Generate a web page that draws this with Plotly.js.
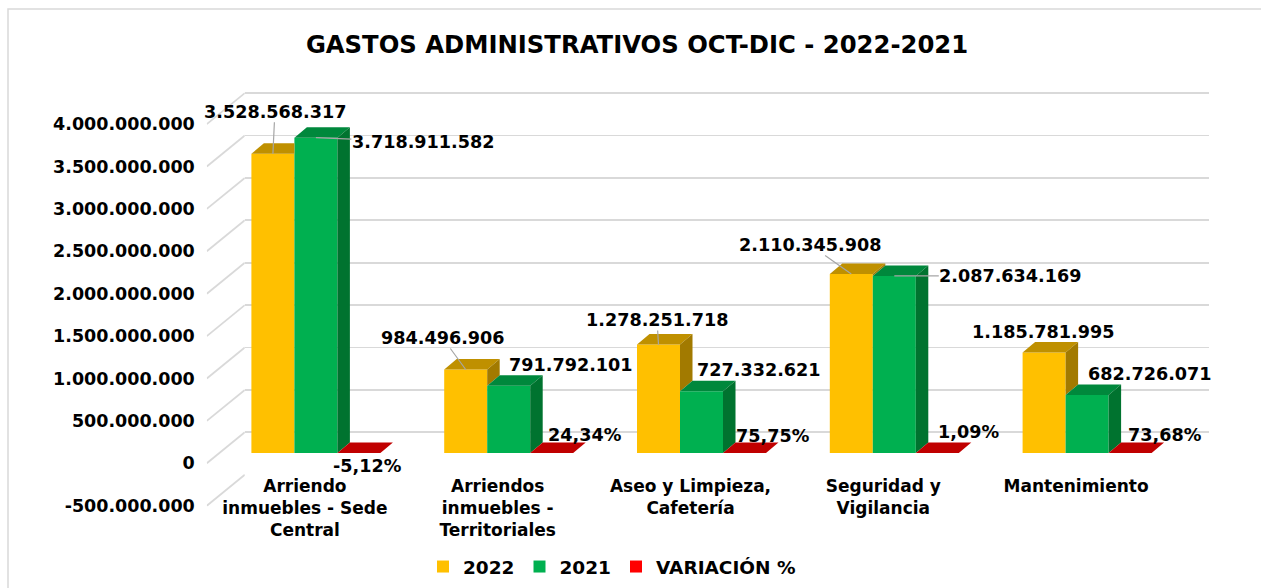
<!DOCTYPE html>
<html><head><meta charset="utf-8">
<script src="https://cdn.plot.ly/plotly-3.0.1.min.js"></script>
<style>html,body{margin:0;padding:0;background:#fff}#chart{width:1261px;height:588px}</style>
</head><body><div id="chart"></div>
<script>
// ---------- DATA ----------
const categoryLabels = [
  'Arriendo<br>inmuebles - Sede<br>Central',
  'Arriendos<br>inmuebles -<br>Territoriales',
  'Aseo y Limpieza,<br>Cafetería',
  'Seguridad y<br>Vigilancia',
  'Mantenimiento'
];
const values2022 = [3528568317, 984496906, 1278251718, 2110345908, 1185781995];
const values2021 = [3718911582, 791792101, 727332621, 2087634169, 682726071];
const variacionPct = [-5.12, 24.34, 75.75, 1.09, 73.68];
const seriesNames = ['2022', '2021', 'VARIACIÓN %'];
const chartTitle = 'GASTOS ADMINISTRATIVOS OCT-DIC - 2022-2021';

// ---------- STYLE / GEOMETRY ----------
const W = 1261, H = 588;
const FONT = 'DejaVu Sans, Verdana, sans-serif';
const G = {barX0: 219.5, catStep: 192.8, zeroPx: 453, pxPer500M: 42.4,
  backDx: 25.3, backDy: 20.7, frontDy: 10.3, sideDx: 38,
  depthDx: 12.5, depthDy: 10.5, barPx: 43};
G.sideDy = G.frontDy + G.backDy;
const colors = {
  front: ['#FFC000', '#00B050', '#FF0000'],
  top:   ['#BF9000', '#00883C', '#C00000'],
  side:  ['#A27A00', '#00732F', null]
};
const gridColor = '#D9D9D9';
const tick0 = -5e8, dtick = 5e8, tickMax = 4e9;

const k = G.pxPer500M / 5e8;            // px per unit
const nCat = categoryLabels.length;
const xRange = [-0.5, nCat - 0.5];
const yRange = [-5.1e8, 4.05e9];
const yPixBar = v => G.zeroPx - v * k;
const barDomX = [G.barX0 / W, (G.barX0 + nCat * G.catStep) / W];
const backDomX = [(G.barX0 + G.backDx) / W, (G.barX0 + G.backDx + nCat * G.catStep) / W];
const barDomY = [(H - yPixBar(yRange[0])) / H, (H - yPixBar(yRange[1])) / H];
const backDomY = [barDomY[0] + G.backDy / H, barDomY[1] + G.backDy / H];
const frontZero = G.zeroPx + G.frontDy;
const sideRange = [yRange[0], yRange[1] + G.sideDy / k];
const sideDomY = [(H - (frontZero - sideRange[0] * k)) / H, (H - (frontZero - sideRange[1] * k)) / H];
const sideDomX = [(G.barX0 + G.backDx - G.sideDx) / W, (G.barX0 + G.backDx) / W];

const bargap = 1 - 3 * G.barPx / G.catStep;
const w = (1 - bargap) / 3;
const ddx = G.depthDx / G.catStep;
const ddy = G.depthDy / k;

const fmtInt = n => String(Math.round(n)).replace(/\B(?=(\d{3})+(?!\d))/g, '.');
const fmtPct = p => p.toFixed(2).replace('.', ',') + '%';

const seriesVals = [values2022, values2021, variacionPct.map(p => p / 100)];
const xs = categoryLabels.map((_, i) => i);

const tickVals = [];
for (let v = tick0; v <= tickMax + 1; v += dtick) tickVals.push(v);
const tickText = tickVals.map(fmtInt);

// ---------- TRACES ----------
const traces = seriesVals.map((vals, j) => ({
  type: 'bar', name: seriesNames[j], x: xs, y: vals,
  xaxis: 'x2', yaxis: 'y2',
  marker: {color: colors.front[j], line: {width: 0}},
  hoverinfo: 'skip'
}));

// ---------- SHAPES ----------
const shapes = [];
// chart border
shapes.push({type: 'rect', xref: 'paper', yref: 'paper', x0: 8 / W, x1: 1.02, y0: -0.02, y1: 1 - 9 / H,
  line: {color: '#D9D9D9', width: 1.5}, layer: 'below'});
// side wall diagonal gridlines
tickVals.forEach(v => {
  shapes.push({type: 'line', xref: 'x3', yref: 'y3', x0: 0, x1: 1, y0: v, y1: v + G.sideDy / k,
    line: {color: gridColor, width: 1.8}, layer: 'below'});
});
// 3D faces (top and side) computed from the data
for (let j = 0; j < 3; j++) {
  for (let i = 0; i < nCat; i++) {
    const x0 = i + (j - 1.5) * w, x1 = x0 + w;
    const v = seriesVals[j][i];
    const nb = j < 2 ? Math.max(seriesVals[j + 1][i], 0) : null;
    let topPath;
    if (j < 2 && nb >= v) {
      topPath = `M${x0},${v} L${x1},${v} L${x1},${v + ddy} L${x0 + ddx},${v + ddy} Z`;
    } else {
      topPath = `M${x0},${v} L${x1},${v} L${x1 + ddx},${v + ddy} L${x0 + ddx},${v + ddy} Z`;
    }
    shapes.push({type: 'path', xref: 'x2', yref: 'y2', path: topPath,
      fillcolor: colors.top[j], line: {width: 0}, layer: 'above'});
    if (j < 2 && nb < v) {
      const sidePath = `M${x1},${v} L${x1 + ddx},${v + ddy} L${x1 + ddx},${nb + ddy} L${x1},${nb} Z`;
      shapes.push({type: 'path', xref: 'x2', yref: 'y2', path: sidePath,
        fillcolor: colors.side[j], line: {width: 0}, layer: 'above'});
    }
  }
}

// ---------- DATA LABELS ----------
// [ax, ay, leader] pixel offsets of each label from its bar top
const labelOffsets = [
  [[2, -42, 1], [-23, -31.5, 1], [-1.5, -24.6, 1], [-41, -29, 1], [-1, -20, 0]],
  [[107, 4.5, 1], [62, -21, 0], [57, -21, 0], [116, 0, 1], [63, -21, 0]],
  [[9, 13, 0], [33, -18, 0], [28, -17, 0], [31, -21, 0], [35, -18, 0]]
];
const labelFont = {family: FONT, size: 17.6, color: '#000', weight: 700};
const annotations = [];
for (let j = 0; j < 3; j++) {
  for (let i = 0; i < nCat; i++) {
    const o = labelOffsets[j][i];
    annotations.push({
      xref: 'x2', yref: 'y2', x: i + (j - 1) * w, y: j < 2 ? seriesVals[j][i] : 0,
      text: j < 2 ? fmtInt(seriesVals[j][i]) : fmtPct(variacionPct[i]),
      showarrow: true, ax: o[0], ay: o[1], arrowhead: 0, arrowwidth: 1.2, standoff: 0,
      arrowcolor: o[2] ? '#A6A6A6' : 'rgba(0,0,0,0)',
      font: labelFont, borderpad: 0
    });
  }
}

const axFont = {family: FONT, size: 17.5, color: '#000', weight: 700};
const catFont = {family: FONT, size: 17, color: '#000', weight: 700};
const layout = {
  width: W, height: H, margin: {l: 0, r: 0, t: 0, b: 0},
  paper_bgcolor: '#fff', plot_bgcolor: 'rgba(0,0,0,0)',
  separators: ',.',
  title: {text: chartTitle, font: {family: FONT, size: 24.3, color: '#000', weight: 700},
    x: 637 / W, xanchor: 'center', y: 1 - 44 / H, yanchor: 'middle', xref: 'paper', yref: 'paper'},
  barmode: 'group', bargap: bargap, bargroupgap: 0,
  // back wall
  xaxis: {domain: backDomX, range: xRange, visible: false, fixedrange: true},
  yaxis: {domain: backDomY, range: yRange, anchor: 'x', showgrid: true, gridcolor: gridColor, gridwidth: 1.8,
    zeroline: false, showticklabels: false, ticks: '', tickmode: 'array', tickvals: tickVals, showline: false},
  // bar plane
  xaxis2: {domain: barDomX, range: xRange, anchor: 'free', position: (H - 474) / H,
    tickmode: 'array', tickvals: xs, ticktext: categoryLabels, ticks: '', showgrid: false,
    zeroline: false, showline: false, tickfont: catFont, ticklabelshift: -11},
  yaxis2: {domain: barDomY, range: yRange, anchor: 'x2', visible: true, showgrid: false,
    zeroline: false, showticklabels: false, ticks: '', showline: false},
  // side wall (front plane scale)
  xaxis3: {domain: sideDomX, range: [0, 1], visible: false},
  yaxis3: {domain: sideDomY, range: sideRange, anchor: 'x3', showgrid: false, zeroline: false,
    tickmode: 'array', tickvals: tickVals, ticktext: tickText, ticks: '',
    tickfont: axFont, showline: false, ticklabelstandoff: 11},
  showlegend: true,
  legend: {orientation: 'h', x: 612 / W, xanchor: 'center', y: (H - 567) / H, yanchor: 'middle',
    font: {family: FONT, size: 18.5, color: '#000', weight: 700}, bgcolor: 'rgba(0,0,0,0)', traceorder: 'normal'},
  shapes: shapes, annotations: annotations
};

// empty traces to activate the wall subplots
traces.push({type: 'scatter', x: [], y: [], xaxis: 'x3', yaxis: 'y3', showlegend: false, hoverinfo: 'skip'});
traces.push({type: 'scatter', x: [], y: [], xaxis: 'x', yaxis: 'y', showlegend: false, hoverinfo: 'skip'});

Plotly.newPlot('chart', traces, layout, {displayModeBar: false, staticPlot: true});
</script></body></html>
